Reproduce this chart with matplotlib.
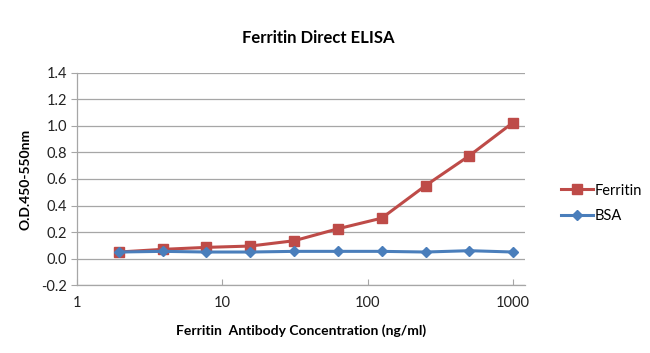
import matplotlib
matplotlib.use("Agg")
import matplotlib.pyplot as plt
from matplotlib.ticker import FixedLocator, FixedFormatter, NullLocator

plt.rcParams['font.family'] = ['Lato', 'DejaVu Sans']

concentration = [1.95, 3.9, 7.8, 15.6, 31.25, 62.5, 125, 250, 500, 1000]
ferritin = [0.05, 0.07, 0.085, 0.095, 0.135, 0.225, 0.305, 0.55, 0.775, 1.025]
bsa = [0.05, 0.055, 0.05, 0.05, 0.055, 0.055, 0.055, 0.05, 0.06, 0.05]
y_ticks = [-0.2, 0.0, 0.2, 0.4, 0.6, 0.8, 1.0, 1.2, 1.4]
x_ticks = [1, 10, 100, 1000]
x_labels = ["1", "10", "100", "1000"]

fig = plt.figure(figsize=(6.5, 3.53), dpi=100)
ax = fig.add_axes([0.118, 0.192, 0.690, 0.602])

red = "#BE4B48"
blue = "#4A7EBB"
ax.plot(concentration, ferritin, color=red, lw=2.2, marker="s", ms=7.5,
        markerfacecolor=red, markeredgecolor=red, label="Ferritin", zorder=3)
ax.plot(concentration, bsa, color=blue, lw=2.2, marker="D", ms=5.5,
        markerfacecolor=blue, markeredgecolor=blue, label="BSA", zorder=4)

ax.set_xscale("log")
ax.set_xlim(1, 1211)
ax.set_ylim(-0.2, 1.4)
ax.xaxis.set_major_locator(FixedLocator(x_ticks))
ax.xaxis.set_major_formatter(FixedFormatter(x_labels))
ax.xaxis.set_minor_locator(NullLocator())
ax.set_yticks(y_ticks)
ax.set_yticklabels([f"{v:.1f}" for v in y_ticks])

ax.grid(axis="y", color="#A6A6A6", lw=0.9)
ax.set_axisbelow(True)
for s in ["top", "right"]:
    ax.spines[s].set_visible(False)
for s in ["left", "bottom"]:
    ax.spines[s].set_color("#A6A6A6")
    ax.spines[s].set_linewidth(0.9)

ax.tick_params(axis="y", direction="out", length=4, color="#A6A6A6",
               labelsize=10.5, labelcolor="#222222", pad=3)
ax.tick_params(axis="x", direction="in", length=4, color="#A6A6A6",
               labelsize=10.5, labelcolor="#222222", pad=8)

fig.text(0.49, 0.893, "Ferritin Direct ELISA", fontsize=12, fontweight="bold",
         ha="center", va="center")
ax.set_xlabel("Ferritin  Antibody Concentration (ng/ml)", fontsize=10,
              fontweight="bold", labelpad=10)
ax.set_ylabel("O.D.450-550nm", fontsize=10, fontweight="bold", labelpad=7)

ax.legend(loc="center left", bbox_to_anchor=(1.05, 0.385), frameon=False,
          fontsize=10.5, handlelength=2.2, handletextpad=0.1, labelspacing=0.8)

fig.savefig("out.png", dpi=100)
